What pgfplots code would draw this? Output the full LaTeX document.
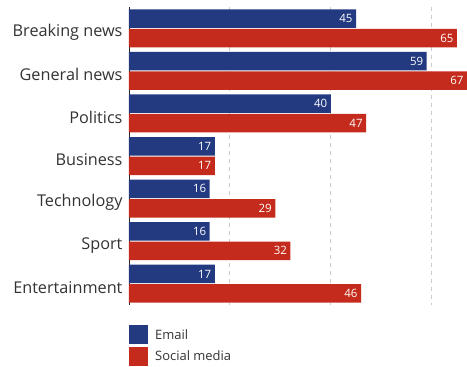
\documentclass[border=0pt]{standalone}
\usepackage{pgfplots}
\pgfplotsset{compat=1.18}
\usepackage{fontspec}
\setmainfont{Open Sans}
\definecolor{emailc}{HTML}{233A80}
\definecolor{socialc}{HTML}{C42B1C}
\definecolor{labelc}{HTML}{333333}
\begin{document}
\begin{tikzpicture}
\begin{axis}[
  scale only axis, width=338bp, height=298bp,
  /pgf/number format/assume math mode=true,
  xbar, bar width=18.5bp,
  xmin=0, xmax=67, ymin=-0.5, ymax=6.5, y dir=reverse,
  axis lines=left,
  x axis line style={draw=none},
  y axis line style={draw=black!85, line width=0.8bp, -},
  ytick={0,1,2,3,4,5,6},
  yticklabels={Breaking news,General news,Politics,Business,Technology,Sport,Entertainment},
  yticklabel style={font=\fontsize{16.3}{18}\selectfont, text=labelc, xshift=-3bp, yshift=-4bp},
  xtick={20,40,60}, xticklabels={},
  major tick length=0pt,
  xmajorgrids, grid style={dash pattern=on 4bp off 4bp, black!20, line width=0.8bp},
  nodes near coords,
  point meta=x,
  every node near coord/.append style={anchor=east, text=white, font=\fontsize{11.5}{13}\selectfont},
  legend style={at={(0,-0.068)}, anchor=north west, draw=none, inner sep=0pt,
    font=\fontsize{13}{15}\selectfont, text=labelc, row sep=2.5bp,
    nodes={inner sep=2bp}},
  legend cell align=left,
  legend image code/.code={\fill[#1, draw=none] (0bp,-9.5bp) rectangle (19bp,9.5bp);},
]
\addplot[fill=emailc, draw=none, bar shift=9.75bp] coordinates {(45,0) (59,1) (40,2) (17,3) (16,4) (16,5) (17,6)};
\addplot[fill=socialc, draw=none, bar shift=-9.75bp] coordinates {(65,0) (67,1) (47,2) (17,3) (29,4) (32,5) (46,6)};
\legend{\hskip5bp Email, \hskip5bp Social media}
\end{axis}
\path ([xshift=-129bp,yshift=-62bp]current axis.south west) rectangle ([yshift=7bp]current axis.north east);
\end{tikzpicture}
\end{document}
